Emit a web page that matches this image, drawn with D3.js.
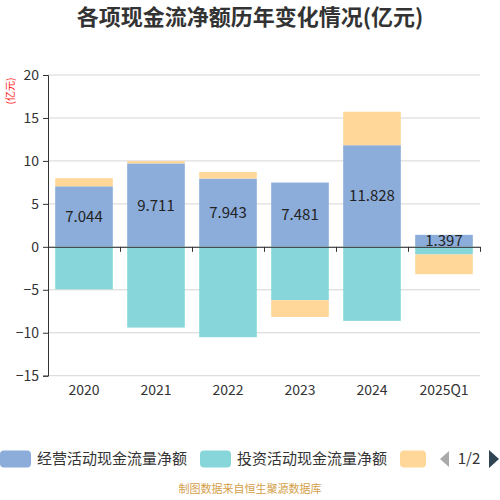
<!DOCTYPE html>
<html>
<head>
<meta charset="utf-8">
<script src="https://cdn.jsdelivr.net/npm/d3@7"></script>
<style>
  html, body { margin: 0; padding: 0; background: #fff; }
  svg { display: block; font-family: "Noto Sans CJK SC", "Noto Sans", sans-serif; }
</style>
</head>
<body>
<svg id="chart" width="500" height="500"></svg>
<script>
const categories = ["2020", "2021", "2022", "2023", "2024", "2025Q1"];
const seriesNames = ["经营活动现金流量净额", "投资活动现金流量净额", "筹资活动现金流量净额"];
const operating = [7.044, 9.711, 7.943, 7.481, 11.828, 1.397];
const investing = [-4.95, -9.40, -10.52, -6.21, -8.62, -0.89];
const financing = [0.95, 0.27, 0.77, -1.95, 3.90, -2.29];
const yTicks = [-15, -10, -5, 0, 5, 10, 15, 20];
const colors = ["#8cacda", "#87d6d9", "#ffd899"];

const svg = d3.select("#chart");
const plotL = 48, plotR = 480, plotT = 75, plotB = 375.7;

const x = d3.scaleBand().domain(categories).range([plotL, plotR])
  .paddingInner(0.2).paddingOuter(0.1);
const y = d3.scaleLinear().domain([-15, 20]).range([plotB, plotT]);

// title
svg.append("text")
  .attr("x", 250).attr("y", 25)
  .attr("text-anchor", "middle").attr("font-size", "22px").attr("font-weight", "bold")
  .attr("fill", "#333").text("各项现金流净额历年变化情况(亿元)");

// unit
svg.append("text")
  .attr("transform", "translate(14, 91) rotate(-90)")
  .attr("text-anchor", "middle").attr("font-size", "10px")
  .attr("fill", "#ff2020").text("(亿元)");

// grid
svg.append("g").selectAll("line").data(yTicks).join("line")
  .attr("x1", plotL).attr("x2", plotR)
  .attr("y1", d => y(d)).attr("y2", d => y(d))
  .attr("stroke", "#d6d6d6").attr("stroke-width", 1);

// bars
const table = categories.map((c, i) => ({ cat: c, s0: operating[i], s1: investing[i], s2: financing[i] }));
const stacked = d3.stack().keys(["s0", "s1", "s2"]).offset(d3.stackOffsetDiverging)(table);

svg.append("g").selectAll("g").data(stacked).join("g")
  .attr("fill", (d, i) => colors[i])
  .selectAll("rect").data(d => d).join("rect")
  .attr("x", d => x(d.data.cat))
  .attr("width", x.bandwidth())
  .attr("y", d => y(Math.max(d[0], d[1])))
  .attr("height", d => Math.abs(y(d[0]) - y(d[1])));

// labels on operating series
svg.append("g").selectAll("text").data(stacked[0]).join("text")
  .attr("x", d => x(d.data.cat) + x.bandwidth() / 2)
  .attr("y", d => y((d[0] + d[1]) / 2))
  .attr("dy", "0.36em")
  .attr("text-anchor", "middle").attr("font-size", "15px").attr("fill", "#222")
  .text(d => d.data.s0.toFixed(3));

// y axis
const yAxis = svg.append("g").attr("transform", `translate(${plotL},0)`)
  .call(d3.axisLeft(y).tickValues(yTicks).tickSize(5).tickPadding(4));
yAxis.select(".domain").attr("stroke", "#333");
yAxis.selectAll(".tick line").attr("stroke", "#333");
yAxis.selectAll("text").attr("font-size", "14px").attr("fill", "#333")
  .attr("font-family", "'Noto Sans CJK SC', sans-serif");

// x axis at zero, ticks on band boundaries
const xb = d3.scaleLinear().domain([0, categories.length]).range([plotL, plotR]);
const xAxis = svg.append("g").attr("transform", `translate(0,${y(0)})`)
  .call(d3.axisBottom(xb).tickValues(d3.range(1, categories.length + 1)).tickFormat("").tickSize(5).tickSizeOuter(0));
xAxis.select(".domain").attr("stroke", "#333");
xAxis.selectAll(".tick line").attr("stroke", "#333");

svg.append("g").selectAll("text").data(categories).join("text")
  .attr("x", d => x(d) + x.bandwidth() / 2)
  .attr("y", plotB + 19)
  .attr("text-anchor", "middle").attr("font-size", "14px").attr("fill", "#333")
  .text(d => d);

// legend
const legend = svg.append("g");
const legX = [0, 200, 400];
const legW = [31, 31, 26];
legend.selectAll("rect").data(seriesNames).join("rect")
  .attr("x", (d, i) => legX[i]).attr("y", 450.5)
  .attr("width", (d, i) => legW[i]).attr("height", 17)
  .attr("rx", 4).attr("fill", (d, i) => colors[i]);
legend.selectAll("text").data(seriesNames.slice(0, 2)).join("text")
  .attr("x", (d, i) => legX[i] + 37).attr("y", 459)
  .attr("dy", "0.36em").attr("font-size", "15px").attr("fill", "#333")
  .text(d => d);
legend.append("path").attr("d", "M440,459 L449,451 L449,467 Z").attr("fill", "#aaa");
legend.append("text").attr("x", 469).attr("y", 459).attr("dy", "0.36em")
  .attr("text-anchor", "middle").attr("font-size", "15px").attr("fill", "#333").text("1/2");
legend.append("path").attr("d", "M489,450 L499,459 L489,468 Z").attr("fill", "#2f4554");

// footer
svg.append("text")
  .attr("x", 250).attr("y", 493)
  .attr("text-anchor", "middle").attr("font-size", "11px")
  .attr("fill", "#d4a04a").text("制图数据来自恒生聚源数据库");
</script>
</body>
</html>
